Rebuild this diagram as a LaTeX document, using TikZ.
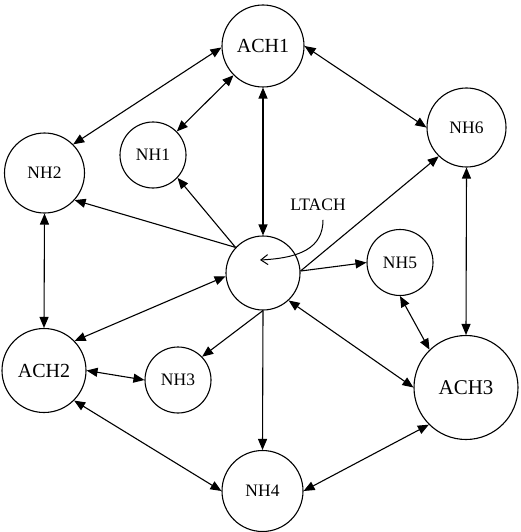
\documentclass[tikz,border=0pt]{standalone}
\usepackage{fontspec}
\setmainfont{Liberation Serif}
\usepackage{tikz}
\usetikzlibrary{arrows.meta}
\tikzset{
    hub/.style={circle, draw, line width=1.1pt, inner sep=0pt, font=\fontsize{20}{22}\selectfont},
    home/.style={circle, draw, line width=1.1pt, inner sep=0pt, font=\fontsize{17.5}{20}\selectfont},
    arrow/.style={line width=1.1pt, -{Triangle[length=11pt,width=9pt]}},
    twoway/.style={line width=1.1pt, {Triangle[length=11pt,width=9pt]}-{Triangle[length=11pt,width=9pt]}}
}
\begin{document}
\begin{tikzpicture}[x=1pt, y=-1pt]
            \useasboundingbox (0,0) rectangle (520,532);
            \node[hub, minimum size=82pt] (ach1) at (263,46) {ACH1};
            \node[hub, minimum size=84pt] (ach2) at (44,370.5) {ACH2};
            \node[hub, minimum size=104pt, font=\fontsize{21}{23}\selectfont] (ach3) at (466,387.5) {ACH3};
            \node[home, minimum size=74pt] (ltach) at (263,273) {};
            \node[home, minimum size=66pt] (nh1) at (153,155) {NH1};
            \node[home, minimum size=80pt] (nh2) at (44.5,173) {NH2};
            \node[home, minimum size=66pt] (nh3) at (178,380) {NH3};
            \node[home, minimum size=81pt] (nh4) at (262.5,491) {NH4};
            \node[home, minimum size=66pt] (nh5) at (400,262.5) {NH5};
            \node[home, minimum size=79pt] (nh6) at (466.5,127.5) {NH6};
            \node[font=\fontsize{17.5}{20}\selectfont] (label) at (318,204.5) {LTACH};
            \coordinate (tip) at (260,260);
            % label pointer
            \draw[line width=1pt, -{Straight Barb[length=7pt,width=10pt]}] (label.south) ++(5,6) .. controls (323,248) and (300,258) .. (tip);
            % links to the centre
            \draw[twoway] (ach1) -- (ltach);
            \draw[twoway] (ach2.44) -- (ltach.185);
            \draw[twoway] (ach3.west) -- (ltach.-47);
            \draw[arrow] (ltach.137) -- (nh1.-43);
            \draw[arrow] (ltach.137) -- (nh2.-42);
            \draw[arrow] (ltach.south) -- (nh3.44);
            \draw[arrow] (ltach.south) -- (nh4.north);
            \draw[arrow] (ltach.3) -- (nh5.west);
            \draw[arrow] (ltach.3) -- (nh6.226);
            % outer ring
            \draw[twoway] (ach1.182) -- (nh2.45);
            \draw[twoway] (ach1) -- (nh1);
            \draw[twoway] (ach1.east) -- (nh6.west);
            \draw[twoway] (nh2.south) -- (ach2.north);
            \draw[twoway] (ach2.east) -- (nh3.west);
            \draw[twoway] (ach2.-45) -- (nh4.west);
            \draw[twoway] (ach3.225) -- (nh4.east);
            \draw[twoway] (nh5.south) -- (ach3.134);
            \draw[twoway] (nh6.south) -- (ach3.north);
        \end{tikzpicture}
\end{document}
